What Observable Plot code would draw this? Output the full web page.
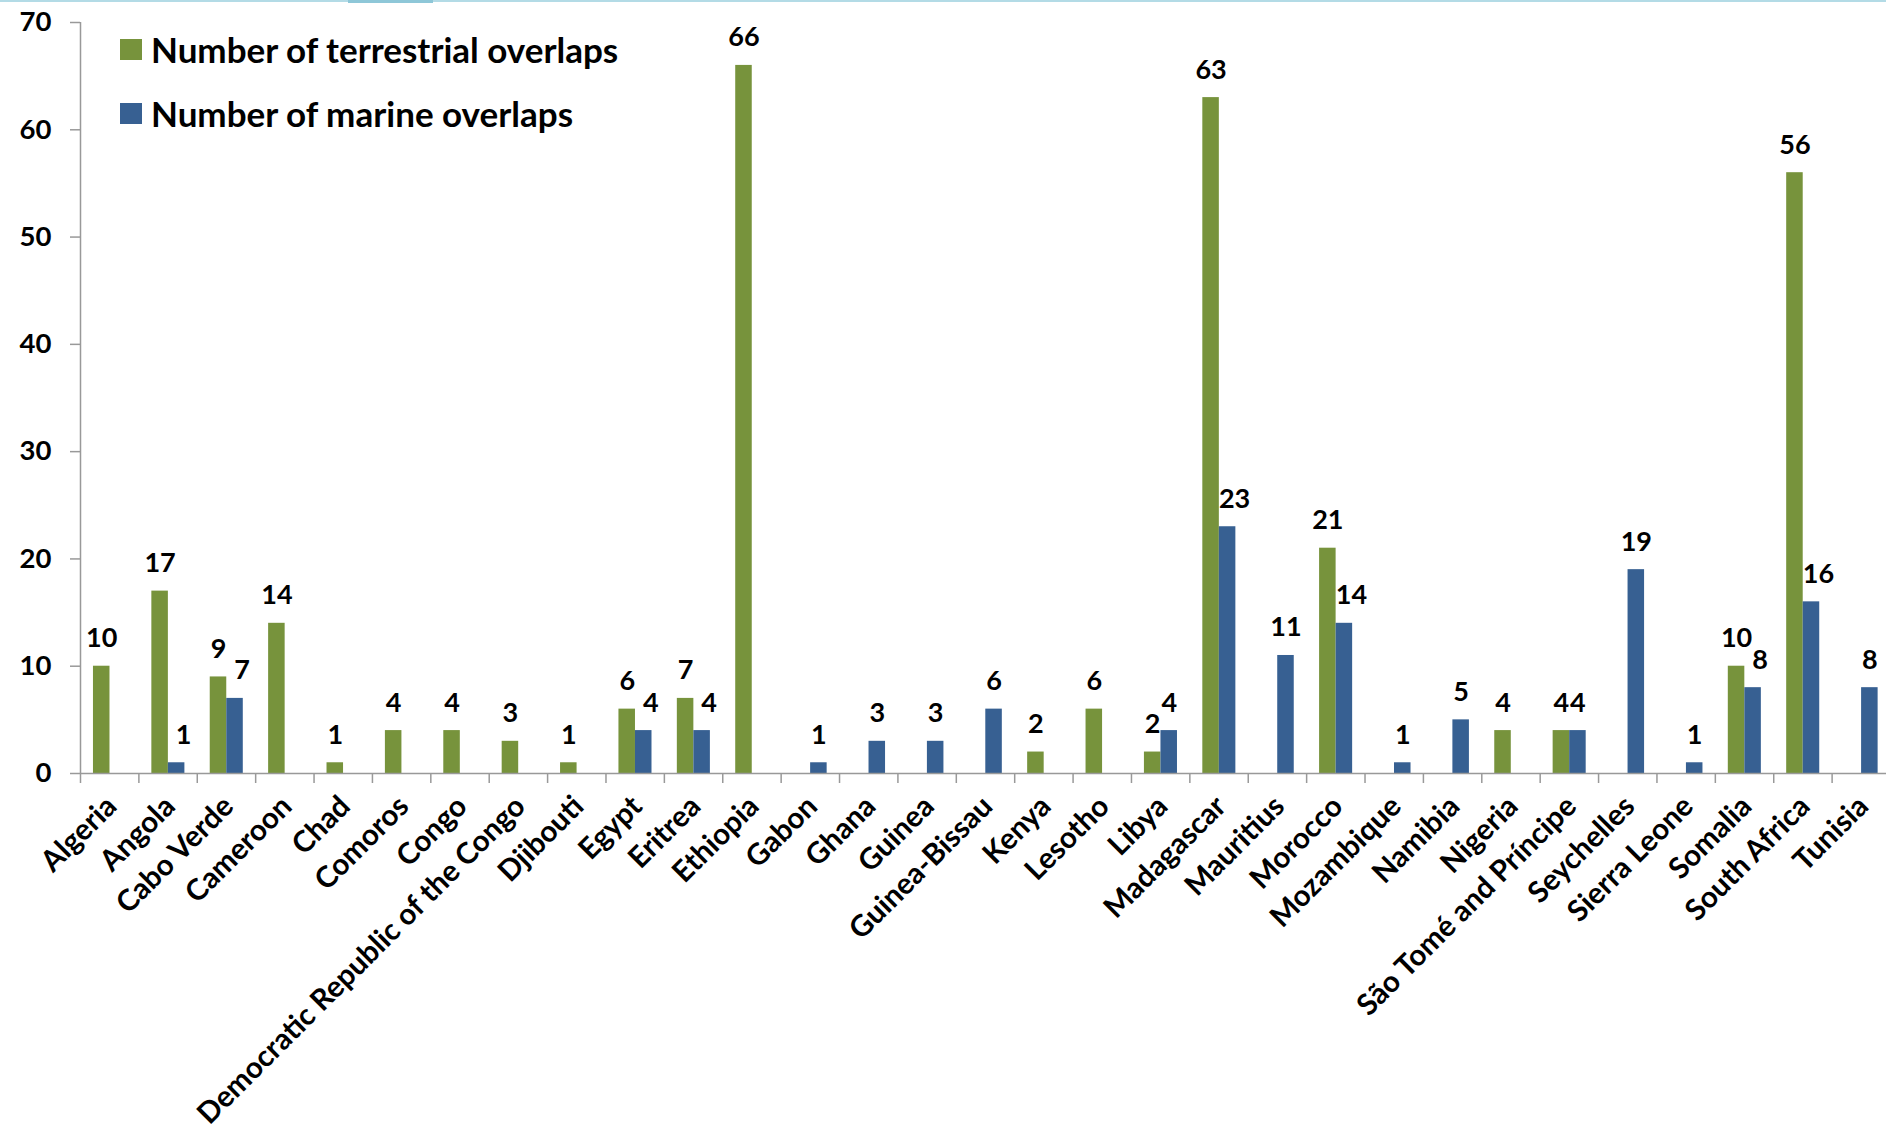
<!DOCTYPE html>
<html><head><meta charset="utf-8">
<script src="https://cdn.jsdelivr.net/npm/d3@7"></script>
<script src="https://cdn.jsdelivr.net/npm/@observablehq/plot@0.6"></script>
<style>
html,body{margin:0;padding:0;background:#fff;overflow:hidden}
#wrap{position:relative;width:1886px;height:1135px;font-family:Lato,"Open Sans",sans-serif}
#topline{position:absolute;left:0;top:0;width:1886px;height:2px;background:#b3dbe6}
#topseg{position:absolute;left:348px;top:0;width:85px;height:3px;background:#8ec7d8}
#legend{position:absolute;left:120px;top:29px;font-weight:bold;font-size:35px;color:#000;line-height:1}
.item{display:flex;align-items:center;height:40px;margin-bottom:24px}
.sw{width:22px;height:21px;margin-right:9px;flex:none}
</style></head><body>
<div id="wrap"><div id="chart"></div><div id="legend"></div><div id="topline"></div><div id="topseg"></div></div>
<script>
const countries = ["Algeria","Angola","Cabo Verde","Cameroon","Chad","Comoros","Congo","Democratic Republic of the Congo","Djibouti","Egypt","Eritrea","Ethiopia","Gabon","Ghana","Guinea","Guinea-Bissau","Kenya","Lesotho","Libya","Madagascar","Mauritius","Morocco","Mozambique","Namibia","Nigeria","São Tomé and Príncipe","Seychelles","Sierra Leone","Somalia","South Africa","Tunisia"];
const terrestrial = [10,17,9,14,1,4,4,3,1,6,7,66,0,0,0,0,2,6,2,63,0,21,0,0,4,4,0,0,10,56,0];
const marine      = [0,1,7,0,0,0,0,0,0,4,4,0,1,3,3,6,0,0,4,23,11,14,1,5,0,4,19,1,8,16,8];
const seriesNames = ["Number of terrestrial overlaps","Number of marine overlaps"];
const seriesColors = ["#77933C","#376092"];
const yTicks = [0,10,20,30,40,50,60,70];

const W = 1886, H = 1135;
const mL = 80, mR = -4, mT = 22, mB = 362;
const bw = (W - mL - mR) / countries.length;
const axisGray = "#999999";

const rowsT = countries.map((c,i)=>({country:c, value:terrestrial[i], other:marine[i]})).filter(d=>d.value>0);
const rowsM = countries.map((c,i)=>({country:c, value:marine[i], other:terrestrial[i]})).filter(d=>d.value>0);
const rowsMshift = rowsM.filter(d=>d.other>d.value);
const rowsMplain = rowsM.filter(d=>!(d.other>d.value));

const f0 = 0.222, f1 = 0.505, f2 = 0.788;
const labelStyle = {fontSize: 27, fontWeight: "bold", fill: "#000", lineAnchor: "bottom", dy: -19};

const chart = Plot.plot({
  width: W, height: H,
  marginLeft: mL, marginRight: mR, marginTop: mT, marginBottom: mB,
  style: {fontFamily: "Lato, 'Open Sans', sans-serif", color: "#000", background: "transparent"},
  x: {domain: countries, padding: 0, round: false, label: null},
  y: {domain: [0,70], label: null},
  marks: [
    Plot.barY(rowsT, {x:"country", y:"value", fill: seriesColors[0], insetLeft: f0*bw, insetRight: (1-f1)*bw}),
    Plot.barY(rowsM, {x:"country", y:"value", fill: seriesColors[1], insetLeft: f1*bw, insetRight: (1-f2)*bw}),
    Plot.ruleY([0], {stroke: axisGray, strokeWidth: 1.5}),
    Plot.ruleX([countries[0]], {x: d=>d, dx: -bw/2, y1: 0, y2: 70, stroke: axisGray, strokeWidth: 1.5}),
    Plot.ruleX(countries, {x: d=>d, dx: -bw/2, y1: 0, y2: 0, insetBottom: -10, stroke: axisGray, strokeWidth: 1.5}),
    Plot.axisY(yTicks, {tickSize: 10, tickPadding: 19, fontSize: 27.5, fontWeight: "bold", stroke: axisGray, fill: "#000", strokeWidth: 1.5, label: null}),
    Plot.axisX({tickRotate: -45, tickSize: 0, tickPadding: 28, fontSize: 29.5, fontWeight: "bold", dx: 2, fill: "#000", label: null}),
    Plot.text(rowsT, {x:"country", y:"value", text: d=>String(d.value), ...labelStyle, dx: ((f0+f1)/2-0.5)*bw}),
    Plot.text(rowsMplain, {x:"country", y:"value", text: d=>String(d.value), ...labelStyle, dx: ((f1+f2)/2-0.5)*bw}),
    Plot.text(rowsMshift, {x:"country", y:"value", text: d=>String(d.value), ...labelStyle, dx: ((f1+f2)/2-0.5)*bw + 7})
  ]
});
document.getElementById("chart").appendChild(chart);

const legend = document.getElementById("legend");
seriesNames.forEach((name,i)=>{
  const item = document.createElement("div"); item.className = "item";
  const sw = document.createElement("div"); sw.className = "sw"; sw.style.background = seriesColors[i];
  const tx = document.createElement("span"); tx.textContent = name;
  item.appendChild(sw); item.appendChild(tx); legend.appendChild(item);
});
</script>
</body></html>
